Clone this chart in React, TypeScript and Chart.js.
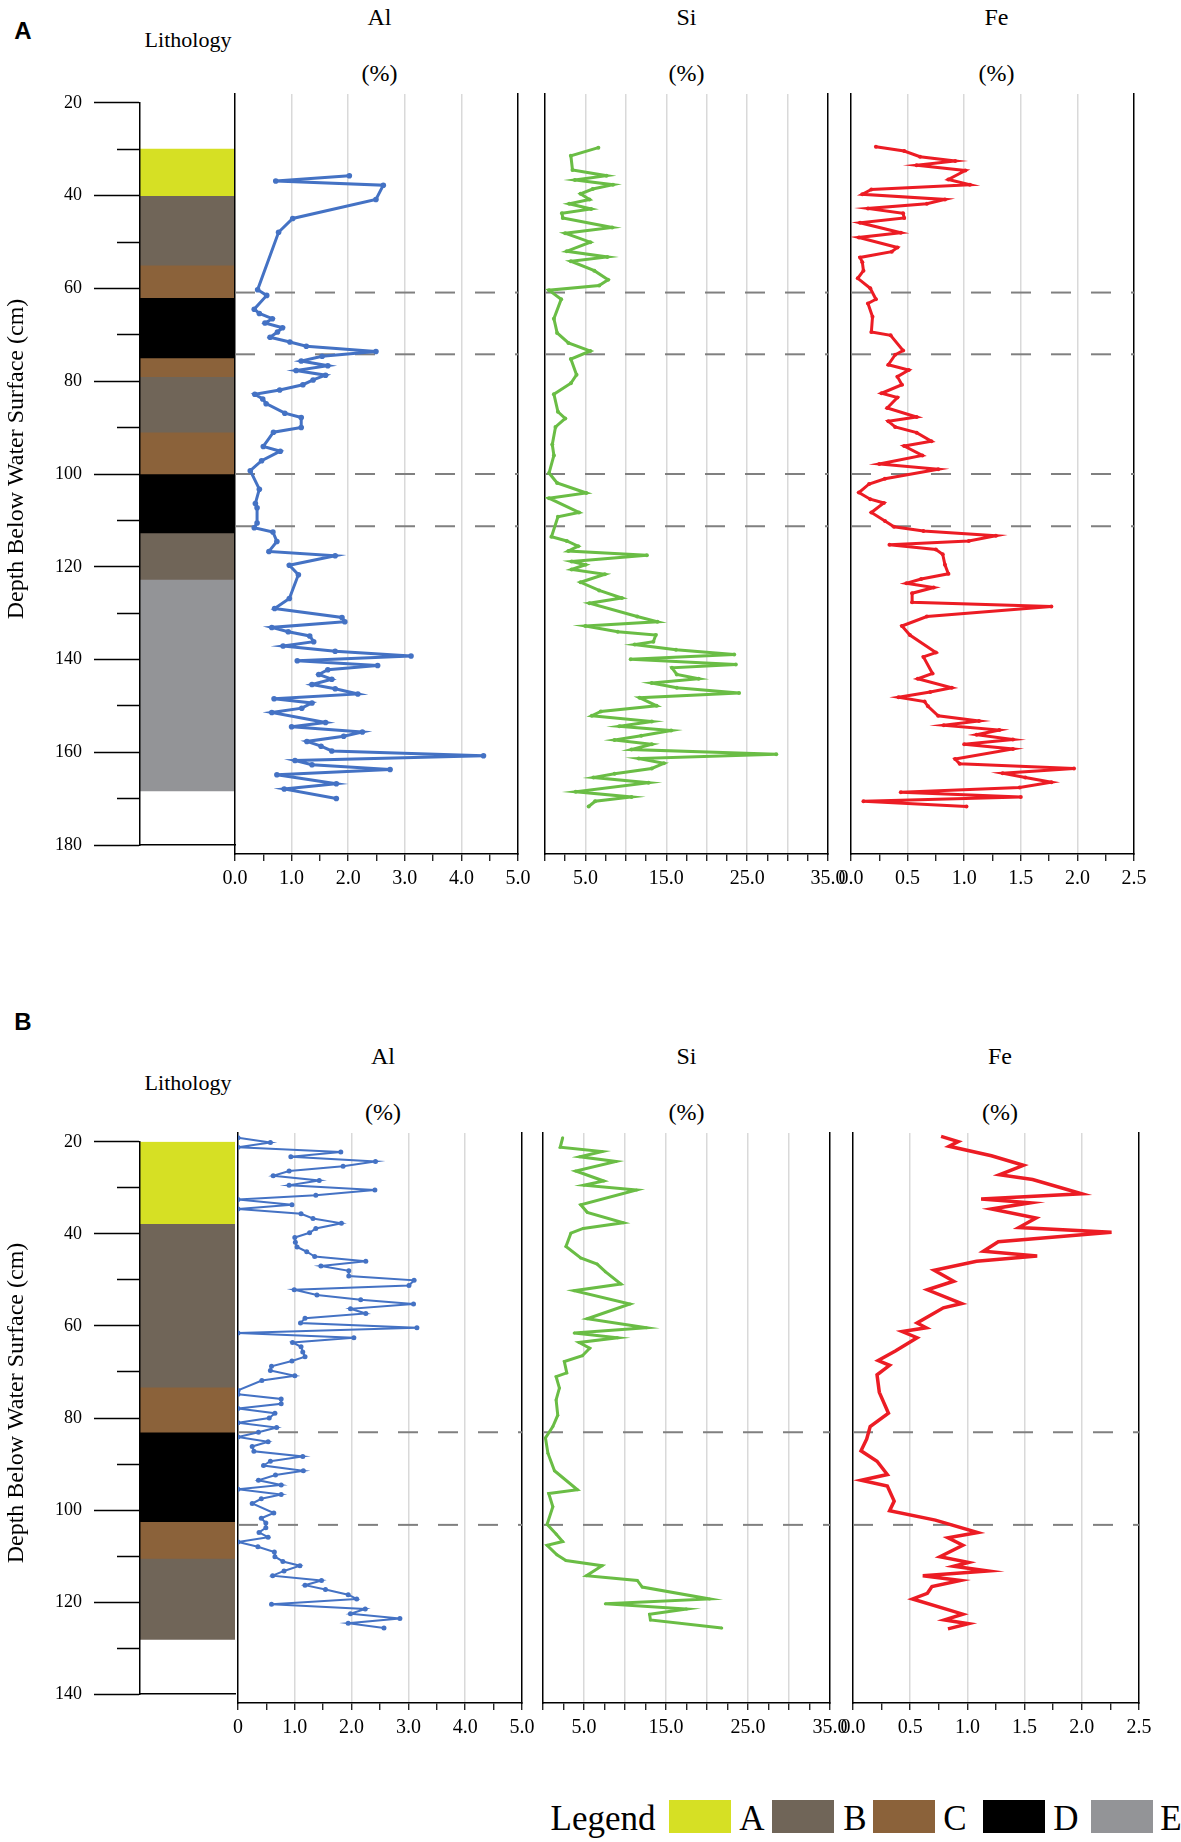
import { useEffect, useRef } from "react";
import { Chart, registerables } from "chart.js";

Chart.register(...registerables);

const SERIF = "Liberation Serif, Times New Roman, serif";
const SANS = '"Liberation Sans", Arial, sans-serif';

Chart.defaults.font.family = SERIF;

// ---- lithology ----
const lithoUnits = ["A", "B", "C", "D", "E"];
const lithoColors: Record<string, string> = {
  A: "#d6e024",
  B: "#706558",
  C: "#8b623a",
  D: "#000000",
  E: "#939497",
};
const lithoTopA = [30, 40, 55, 62, 75, 79, 91, 100, 112.7, 122.7];
const lithoBottomA = [40, 55, 62, 75, 79, 91, 100, 112.7, 122.7, 168.3];
const lithoUnitA = ["A", "B", "C", "D", "C", "B", "C", "D", "B", "E"];
const lithoTopB = [20, 37.8, 73.3, 83.1, 102.5, 110.5];
const lithoBottomB = [37.8, 73.3, 83.1, 102.5, 110.5, 128.1];
const lithoUnitB = ["A", "B", "C", "D", "C", "B"];

// dashed reference depths (cm)
const dashDepthA = [61.8, 74.8, 100, 111];
const dashDepthB = [83, 102.5];

// tick label values
const depthLabelStep = 20;
const alLabelValues = [0, 1, 2, 3, 4, 5];
const siLabelValues = [5, 15, 25, 35];
const feLabelValues = [0, 0.5, 1, 1.5, 2, 2.5];
const alGridValues = [1, 2, 3, 4];
const siGridValues = [5, 10, 15, 20, 25, 30];
const feGridValues = [0.5, 1, 1.5, 2];

// ---- core A ----
const alDepthA = [37.2, 38.3, 39.2, 42.2, 46.2, 49.1, 61.2, 62.4, 65.3, 66.2, 67.3, 68.2, 69.2, 70.1, 71.2, 72.2, 73.1, 74.2, 75.2, 76.2, 77.2, 78.2, 79.2, 80.2, 81.2, 82.3, 83.2, 84.2, 85.2, 87.2, 88.1, 90.2, 91.2, 94.2, 95.2, 97.2, 99.3, 103.2, 106.2, 107.1, 110.3, 111.3, 112.2, 114.2, 116.3, 117.2, 119.2, 121.2, 126.2, 128.3, 130.2, 131.1, 132.3, 133.2, 134.1, 135.3, 136.2, 137.3, 138.3, 139.3, 140.3, 141.2, 142.2, 143.2, 144.3, 145.2, 146.3, 147.3, 148.2, 149.3, 150.2, 152.3, 153.2, 154.3, 155.2, 156.3, 157.3, 158.3, 159.3, 160.3, 161.2, 162.2, 163.3, 165.2, 166.3, 168.3];
const alValueA = [2.02, 0.72, 2.62, 2.49, 1.02, 0.77, 0.4, 0.56, 0.34, 0.43, 0.66, 0.53, 0.84, 0.75, 0.62, 0.97, 1.26, 2.49, 1.54, 1.17, 1.64, 1.08, 1.6, 1.38, 1.2, 0.79, 0.35, 0.49, 0.55, 0.88, 1.17, 1.17, 0.68, 0.5, 0.8, 0.47, 0.27, 0.43, 0.36, 0.39, 0.39, 0.34, 0.67, 0.74, 0.6, 1.77, 0.96, 1.12, 0.96, 0.7, 1.89, 1.94, 0.65, 0.94, 1.32, 1.39, 0.85, 1.77, 3.11, 1.1, 2.52, 1.64, 1.48, 1.71, 1.36, 1.77, 2.17, 0.69, 1.36, 1.18, 0.65, 1.6, 1.0, 2.25, 1.92, 1.27, 1.52, 1.71, 4.39, 1.06, 1.36, 2.74, 0.74, 1.79, 0.87, 1.79];

const siDepthA = [31.3, 33.0, 36.0, 37.2, 38.1, 39.1, 40.0, 41.0, 42.2, 43.1, 44.2, 45.1, 46.1, 48.1, 49.3, 51.2, 53.1, 54.3, 55.2, 57.2, 59.1, 60.3, 61.3, 63.2, 67.3, 70.3, 72.4, 74.1, 75.8, 79.1, 80.9, 83.2, 86.9, 88.3, 90.1, 93.8, 96.1, 99.8, 101.9, 104.0, 105.1, 108.1, 109.0, 113.2, 114.1, 115.2, 116.2, 117.1, 118.4, 119.1, 120.1, 121.1, 122.8, 124.5, 126.1, 127.2, 130.0, 131.1, 132.0, 133.2, 133.9, 135.3, 135.9, 137.0, 138.0, 139.0, 140.1, 140.8, 142.2, 143.1, 144.0, 145.0, 146.1, 147.1, 148.8, 150.0, 150.9, 152.1, 153.1, 154.0, 155.1, 156.0, 156.9, 158.0, 159.0, 159.9, 160.9, 162.0, 163.1, 163.9, 165.0, 166.9, 168.0, 168.9, 170.0];
const siValueA = [6.6, 3.2, 3.4, 7.6, 3.7, 8.4, 5.9, 4.4, 5.5, 3.0, 5.7, 2.1, 2.2, 8.3, 2.5, 5.6, 2.7, 7.7, 3.2, 6.1, 7.8, 6.7, 0.5, 2.0, 1.1, 1.5, 2.9, 5.6, 3.2, 3.9, 3.2, 1.1, 1.6, 2.5, 1.3, 0.9, 1.1, 0.5, 1.5, 5.1, 0.5, 4.2, 1.6, 0.8, 2.7, 4.1, 2.9, 12.6, 3.3, 5.0, 3.3, 7.4, 4.4, 6.7, 9.5, 5.5, 11.4, 13.9, 5.0, 9.0, 13.7, 13.4, 11.1, 16.2, 23.4, 10.6, 23.6, 15.7, 16.3, 19.0, 13.2, 16.3, 24.0, 11.7, 13.8, 6.9, 5.8, 13.2, 9.2, 15.6, 11.9, 8.6, 13.2, 10.7, 28.6, 11.6, 14.7, 13.2, 8.6, 6.0, 12.8, 3.8, 10.7, 6.2, 5.4];

const feDepthA = [31.1, 32.0, 33.2, 34.1, 35.0, 36.1, 38.0, 39.1, 40.1, 41.1, 42.2, 43.1, 44.1, 45.1, 46.1, 47.1, 49.2, 50.2, 52.3, 53.2, 54.4, 55.4, 57.2, 58.8, 60.9, 63.2, 64.1, 66.9, 70.1, 70.8, 74.0, 74.9, 77.0, 78.1, 79.5, 81.2, 83.0, 83.9, 86.1, 88.0, 88.9, 90.1, 91.3, 93.1, 94.1, 96.1, 97.9, 99.0, 101.0, 102.1, 103.9, 105.3, 106.1, 108.1, 109.9, 111.1, 112.0, 113.0, 114.1, 114.9, 115.9, 116.9, 119.1, 121.0, 122.1, 123.0, 123.9, 125.1, 127.0, 127.9, 130.0, 132.0, 133.9, 137.6, 138.5, 142.0, 143.1, 145.0, 145.9, 147.0, 147.9, 148.9, 150.9, 152.0, 152.9, 153.9, 154.9, 155.9, 156.9, 157.9, 160.0, 161.0, 162.0, 163.0, 163.9, 164.9, 166.0, 167.0, 168.0, 168.9, 170.0];
const feValueA = [0.22, 0.47, 0.61, 0.92, 0.58, 1.01, 0.86, 1.05, 0.18, 0.1, 0.83, 0.67, 0.15, 0.46, 0.47, 0.08, 0.44, 0.07, 0.41, 0.36, 0.08, 0.1, 0.11, 0.06, 0.17, 0.22, 0.15, 0.19, 0.18, 0.35, 0.46, 0.39, 0.33, 0.51, 0.41, 0.45, 0.27, 0.41, 0.32, 0.58, 0.33, 0.39, 0.58, 0.71, 0.47, 0.63, 0.25, 0.77, 0.3, 0.16, 0.07, 0.17, 0.29, 0.18, 0.3, 0.38, 0.64, 1.28, 1.04, 0.34, 0.75, 0.81, 0.83, 0.86, 0.62, 0.49, 0.73, 0.54, 0.54, 1.77, 0.67, 0.45, 0.52, 0.75, 0.64, 0.72, 0.59, 0.89, 0.7, 0.42, 0.65, 0.68, 0.77, 1.13, 0.82, 1.31, 1.11, 1.43, 1.0, 1.43, 0.92, 0.96, 1.97, 1.34, 1.54, 1.77, 1.49, 0.44, 1.5, 0.11, 1.02];

// ---- core B ----
const alDepthB = [21, 22, 23, 24, 25, 26, 27, 28, 29, 30, 31, 32, 33.1, 34, 35.1, 36, 37, 38, 39, 40.1, 41, 42, 43, 44, 45, 46, 47, 48, 49, 50.1, 51, 52.1, 53, 54.1, 55.1, 56, 57, 58, 59, 60, 61, 62.1, 63.1, 64.1, 65, 66.1, 67.1, 68, 69.1, 70, 71.1, 72.1, 74.2, 75, 76, 77, 78, 79, 80, 81, 82, 83, 84, 85, 86, 87, 88.1, 89.1, 90, 91.1, 92, 93.1, 94.1, 95, 96.1, 97, 98, 100, 101.1, 102.1, 103.1, 104.1, 105.1, 106.1, 107.1, 108.2, 109.2, 110.2, 111.1, 112.2, 113.2, 114.2, 115.2, 116.1, 117.2, 118.1, 119.2, 120.2, 121.2, 122.2, 123.2, 124.2];
const alValueB = [0, 0.57, 0, 1.81, 0.93, 2.42, 1.85, 0.9, 0.62, 1.43, 0.9, 2.41, 1.37, 0, 0.95, 0, 1.11, 1.32, 1.82, 1.37, 1.26, 1.0, 1.01, 1.04, 1.21, 1.35, 2.25, 1.46, 1.95, 1.95, 3.1, 3.01, 0.99, 1.39, 2.16, 3.09, 1.98, 2.25, 1.18, 1.1, 3.15, 0, 2.04, 0.96, 1.11, 1.14, 1.18, 0.95, 0.59, 0.57, 1.0, 0.42, 0, 0, 0.76, 0.76, 0, 0.65, 0.55, 0, 0.68, 0.36, 0, 0.53, 0.25, 0.28, 1.14, 0.57, 0.45, 1.15, 0.66, 0.36, 0.76, 0, 0.76, 0.41, 0.25, 0.63, 0.41, 0.49, 0.49, 0.37, 0.53, 0, 0.35, 0.64, 0.65, 0.79, 1.09, 0.81, 0.61, 1.47, 1.18, 1.54, 1.94, 2.09, 0.59, 2.24, 1.98, 2.85, 1.94, 2.57];

const siDepthB = [21, 23, 23.9, 25, 26, 28, 30.1, 31, 32, 35.1, 36.7, 38.9, 40.1, 41.1, 43.9, 46.3, 47.6, 49.2, 51.8, 53.2, 56, 59.1, 61, 62.1, 63.1, 64.1, 65.3, 66.9, 68.1, 70.5, 71.3, 73.7, 76.2, 79.4, 81.8, 84.2, 87.4, 91.1, 95.1, 95.9, 98.7, 102.4, 104.4, 106.0, 106.8, 108.8, 110, 111.1, 113.2, 114.2, 115.6, 118.1, 119.1, 120.2, 121.3, 122.5, 124.2];
const siValueB = [2.4, 2.1, 7.2, 4.5, 8.9, 4.0, 7.4, 5.0, 11.4, 4.6, 5.4, 9.8, 4.9, 3.4, 2.8, 4.6, 6.6, 7.6, 9.5, 3.8, 10.6, 5.4, 12.6, 3.8, 9.1, 4.4, 5.7, 4.8, 2.6, 2.9, 1.6, 2.0, 1.6, 1.8, 1.2, 0.3, 0.6, 1.4, 4.2, 0.7, 1.2, 0.5, 1.6, 2.4, 0.5, 1.7, 2.8, 7.2, 5.3, 11.5, 12.1, 20.3, 7.6, 17.5, 13.0, 13.1, 21.8];

const feDepthB = [20.7, 21.8, 22.8, 24.8, 26.8, 28.8, 29.8, 32.8, 33.9, 34.7, 36.0, 37.9, 39.9, 40.9, 42.9, 44.9, 45.9, 47.0, 48.9, 51.2, 53.0, 55.9, 56.8, 60.0, 61.0, 61.8, 63.1, 65.9, 67.9, 68.9, 70.9, 74.6, 79.0, 81.8, 84.4, 86.9, 89.1, 91.9, 93.1, 94.3, 97.5, 99.5, 101.5, 104.1, 105.2, 106.8, 109.2, 110.4, 111.2, 112.2, 113.2, 114.2, 115.5, 116.9, 118.1, 121.3, 122.5, 123.3, 124.4];
const feValueB = [0.77, 0.92, 0.84, 1.21, 1.49, 1.28, 1.57, 2.0, 1.12, 1.55, 1.21, 1.6, 1.45, 2.26, 1.27, 1.14, 1.61, 1.08, 0.71, 0.88, 0.65, 0.95, 0.79, 0.56, 0.64, 0.43, 0.56, 0.37, 0.22, 0.32, 0.21, 0.23, 0.31, 0.15, 0.12, 0.07, 0.21, 0.3, 0.07, 0.3, 0.36, 0.32, 0.72, 1.09, 0.83, 0.96, 0.76, 1.01, 0.88, 1.18, 0.61, 0.94, 0.69, 0.65, 0.52, 0.96, 0.8, 1.01, 0.83];

const BLUE = "#4472c4";
const GREEN = "#6abd45";
const RED = "#ec1c24";

const near = (list: number[], v: number) => list.some((t) => Math.abs(t - v) < 1e-6);

type Box = { left: number; right: number; top: number; bottom: number };

function LithologyChart({ box, depthMax, tops, bottoms, units }: {
  box: Box; depthMax: number; tops: number[]; bottoms: number[]; units: string[];
}) {
  const ref = useRef<HTMLCanvasElement>(null);
  const padTop = 14;
  const W = box.right + 6;
  const H = box.bottom - box.top + padTop * 2;

  useEffect(() => {
    if (!ref.current) return;
    const chart = new Chart(ref.current, {
      type: "bar",
      data: {
        labels: ["Lithology"],
        datasets: tops.map((t, i) => ({
          label: units[i],
          data: [[t, bottoms[i]]],
          backgroundColor: lithoColors[units[i]],
          borderWidth: 0,
          barPercentage: 1,
          categoryPercentage: 1,
          grouped: false,
        })),
      } as any,
      options: {
        animation: false,
        responsive: false,
        events: [],
        layout: { padding: { left: 0, right: W - box.right, top: padTop, bottom: padTop }, autoPadding: false },
        plugins: { legend: { display: false }, tooltip: { enabled: false } },
        scales: {
          x: {
            display: true,
            grid: { display: true, drawOnChartArea: false, drawTicks: false },
            ticks: { display: false },
            border: { color: "#000", width: 1.5, z: 1 },
            afterFit: (s: any) => { s.height = 0; },
          },
          y: {
            type: "linear",
            min: 20,
            max: depthMax,
            reverse: true,
            ticks: {
              stepSize: 10,
              autoSkip: false,
              padding: 12,
              color: "#000",
              font: { family: SERIF, size: 18 },
              callback: (v: any) => (Number(v) % depthLabelStep === 0 ? String(v) : ""),
            },
            grid: {
              drawOnChartArea: false,
              tickLength: 46,
              tickColor: "#000",
              tickWidth: 1.5,
              tickBorderDash: (ctx: any) =>
                ctx.tick && ctx.tick.value % depthLabelStep === 0 ? [] : [0, 23, 100],
            },
            border: { color: "#000", width: 1.5, z: 1 },
            title: {
              display: true,
              text: "\u2003 Depth Below Water Surface (cm)",
              color: "#000",
              font: { family: SERIF, size: 24 },
              padding: 2,
            },
            afterFit: (s: any) => { s.width = box.left; },
          },
        },
      } as any,
    });
    return () => chart.destroy();
  }, []);

  return (
    <canvas
      ref={ref}
      width={W}
      height={H}
      style={{ position: "absolute", left: 0, top: box.top - padTop, width: W, height: H }}
    />
  );
}

function ProfileChart({
  box, depthMax, xMax, step, labelValues, gridValues, format, depths, values, color, lineWidth, pointRadius, dashDepths,
}: {
  box: Box; depthMax: number; xMax: number; step: number; labelValues: number[]; gridValues: number[];
  format: (v: number) => string; depths: number[]; values: number[]; color: string; lineWidth: number;
  pointRadius: number; dashDepths: number[];
}) {
  const ref = useRef<HTMLCanvasElement>(null);
  const padX = 34;
  const padTop = 10;
  const axisH = 50;
  const W = box.right - box.left + padX * 2;
  const H = box.bottom - box.top + padTop + axisH;

  useEffect(() => {
    if (!ref.current) return;
    const n = Math.min(depths.length, values.length);
    const points = [];
    for (let i = 0; i < n; i++) points.push({ x: values[i], y: depths[i] });

    const sideAxis = (position: string) => ({
      type: "linear",
      position,
      min: 20,
      max: depthMax,
      reverse: true,
      ticks: { display: false },
      grid: { display: true, drawOnChartArea: false, drawTicks: false },
      border: { color: "#000", width: 1.5 },
      afterFit: (s: any) => { s.width = 0; },
    });

    const chart = new Chart(ref.current, {
      type: "scatter",
      data: {
        datasets: [
          {
            data: points,
            showLine: true,
            borderColor: color,
            backgroundColor: color,
            borderWidth: lineWidth,
            pointRadius,
            pointHoverRadius: pointRadius,
            pointBorderWidth: 0,
            pointBackgroundColor: color,
          },
          ...dashDepths.map((d) => ({
            data: [{ x: 0, y: d }, { x: xMax, y: d }],
            showLine: true,
            borderColor: "#808080",
            borderWidth: 2,
            borderDash: [20, 20],
            pointRadius: 0,
          })),
        ],
      } as any,
      options: {
        animation: false,
        responsive: false,
        events: [],
        layout: { padding: { left: padX, right: padX, top: padTop, bottom: 0 }, autoPadding: false },
        plugins: { legend: { display: false }, tooltip: { enabled: false } },
        scales: {
          x: {
            type: "linear",
            position: "bottom",
            min: 0,
            max: xMax,
            ticks: {
              stepSize: step,
              autoSkip: false,
              maxRotation: 0,
              minRotation: 0,
              padding: 6,
              color: "#000",
              font: { family: SERIF, size: 20 },
              callback: (v: any) => (near(labelValues, Number(v)) ? format(Number(v)) : ""),
            },
            grid: {
              color: (ctx: any) => (ctx.tick && near(gridValues, ctx.tick.value) ? "#d9d9d9" : "rgba(0,0,0,0)"),
              lineWidth: 1.5,
              tickColor: "#000",
              tickLength: 7,
              tickWidth: 1.2,
            },
            border: { color: "#000", width: 1.5 },
            afterFit: (s: any) => { s.height = axisH; },
          },
          y: sideAxis("left"),
          yRight: sideAxis("right"),
        },
      } as any,
    });
    return () => chart.destroy();
  }, []);

  return (
    <canvas
      ref={ref}
      width={W}
      height={H}
      style={{ position: "absolute", left: box.left - padX, top: box.top - padTop, width: W, height: H }}
    />
  );
}

function Text({ x, y, text, size, family = SERIF, weight = 400 }: {
  x: number; y: number; text: string; size: number; family?: string; weight?: number;
}) {
  return (
    <div
      style={{
        position: "absolute",
        left: x,
        top: y,
        transform: "translate(-50%, -50%)",
        fontFamily: family,
        fontSize: size,
        fontWeight: weight,
        lineHeight: 1,
        whiteSpace: "nowrap",
        color: "#000",
      }}
    >
      {text}
    </div>
  );
}

const fmt1 = (v: number) => v.toFixed(1);
const fmtAlB = (v: number) => (v === 0 ? "0" : v.toFixed(1));

function Panel({ letter, top, bottom, depthMax, al, si, fe, litho, series, dashDepths, alFormat, titleY, unitY, lithoY, letterY, style }: any) {
  return (
    <>
      <Text x={23} y={letterY} text={letter} size={24} family={SANS} weight={700} />
      <Text x={188} y={lithoY} text="Lithology" size={22} />
      <Text x={(al[0] + al[1]) / 2 + 3} y={titleY} text="Al" size={24} />
      <Text x={(al[0] + al[1]) / 2 + 3} y={unitY} text="(%)" size={24} />
      <Text x={(si[0] + si[1]) / 2} y={titleY} text="Si" size={24} />
      <Text x={(si[0] + si[1]) / 2} y={unitY} text="(%)" size={24} />
      <Text x={(fe[0] + fe[1]) / 2 + 4} y={titleY} text="Fe" size={24} />
      <Text x={(fe[0] + fe[1]) / 2 + 4} y={unitY} text="(%)" size={24} />
      <LithologyChart
        box={{ left: 140, right: 235, top, bottom }}
        depthMax={depthMax}
        tops={litho[0]}
        bottoms={litho[1]}
        units={litho[2]}
      />
      <ProfileChart
        box={{ left: al[0], right: al[1], top, bottom }}
        depthMax={depthMax}
        xMax={5}
        step={0.5}
        labelValues={alLabelValues}
        gridValues={alGridValues}
        format={alFormat}
        depths={series.al[0]}
        values={series.al[1]}
        color={BLUE}
        lineWidth={style.al[0]}
        pointRadius={style.al[1]}
        dashDepths={dashDepths}
      />
      <ProfileChart
        box={{ left: si[0], right: si[1], top, bottom }}
        depthMax={depthMax}
        xMax={35}
        step={2.5}
        labelValues={siLabelValues}
        gridValues={siGridValues}
        format={fmt1}
        depths={series.si[0]}
        values={series.si[1]}
        color={GREEN}
        lineWidth={style.si[0]}
        pointRadius={style.si[1]}
        dashDepths={dashDepths}
      />
      <ProfileChart
        box={{ left: fe[0], right: fe[1], top, bottom }}
        depthMax={depthMax}
        xMax={2.5}
        step={0.25}
        labelValues={feLabelValues}
        gridValues={feGridValues}
        format={fmt1}
        depths={series.fe[0]}
        values={series.fe[1]}
        color={RED}
        lineWidth={style.fe[0]}
        pointRadius={style.fe[1]}
        dashDepths={dashDepths}
      />
    </>
  );
}

const legendSwatchX = [669, 772, 873, 983, 1091];
const legendLetterX = [752, 855, 955, 1066, 1171];

export default function App() {
  useEffect(() => {
    document.body.style.margin = "0";
    document.documentElement.style.overflow = "hidden";
  }, []);

  return (
    <div style={{ position: "absolute", left: 0, top: 0, width: 1181, height: 1842, background: "#fff", overflow: "hidden" }}>
      <Panel
        letter="A"
        letterY={31}
        lithoY={40}
        titleY={17}
        unitY={73}
        top={94}
        bottom={854}
        depthMax={180}
        al={[235, 518]}
        si={[545, 828]}
        fe={[851, 1134]}
        litho={[lithoTopA, lithoBottomA, lithoUnitA]}
        series={{ al: [alDepthA, alValueA], si: [siDepthA, siValueA], fe: [feDepthA, feValueA] }}
        dashDepths={dashDepthA}
        alFormat={fmt1}
        style={{ al: [3, 2.8], si: [3, 2], fe: [3, 2] }}
      />
      <Panel
        letter="B"
        letterY={1022}
        lithoY={1083}
        titleY={1056}
        unitY={1112}
        top={1133}
        bottom={1703}
        depthMax={140}
        al={[238, 522]}
        si={[543, 830]}
        fe={[853, 1139]}
        litho={[lithoTopB, lithoBottomB, lithoUnitB]}
        series={{ al: [alDepthB, alValueB], si: [siDepthB, siValueB], fe: [feDepthB, feValueB] }}
        dashDepths={dashDepthB}
        alFormat={fmtAlB}
        style={{ al: [2, 2.5], si: [3, 1.5], fe: [3.5, 0] }}
      />
      <Text x={603} y={1818} text="Legend" size={35} />
      {lithoUnits.map((u, i) => (
        <div
          key={u}
          style={{
            position: "absolute",
            left: legendSwatchX[i],
            top: 1800,
            width: 62,
            height: 33,
            background: lithoColors[u],
          }}
        />
      ))}
      {lithoUnits.map((u, i) => (
        <Text key={"t" + u} x={legendLetterX[i]} y={1818} text={u} size={35} />
      ))}
    </div>
  );
}
